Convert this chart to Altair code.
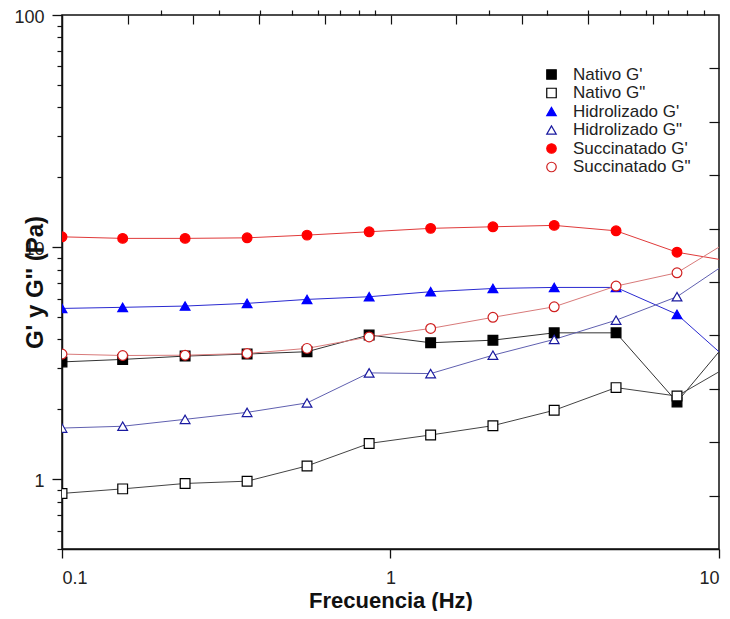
import altair as alt
import pandas as pd

# ---- data ----
freq = [0.1, 0.153, 0.237, 0.366, 0.557, 0.861, 1.325, 2.05, 3.15, 4.86, 7.45, 11.4]
series_names = ["Nativo G'", 'Nativo G"', "Hidrolizado G'", 'Hidrolizado G"',
                "Succinatado G'", 'Succinatado G"']
nativo_gp = [3.20, 3.28, 3.39, 3.46, 3.54, 4.18, 3.87, 3.97, 4.27, 4.27, 2.15, 4.42]
nativo_gpp = [0.868, 0.908, 0.958, 0.98, 1.14, 1.425, 1.55, 1.70, 1.98, 2.48, 2.28, 3.23]
hidro_gp = [5.44, 5.50, 5.57, 5.72, 5.95, 6.11, 6.42, 6.63, 6.70, 6.70, 5.13, 3.0]
hidro_gpp = [1.66, 1.69, 1.81, 1.94, 2.13, 2.87, 2.85, 3.42, 4.0, 4.84, 6.11, 9.17]
succ_gp = [11.07, 10.9, 10.9, 10.96, 11.26, 11.64, 12.04, 12.23, 12.4, 11.75, 9.5, 8.58]
succ_gpp = [3.46, 3.41, 3.42, 3.48, 3.66, 4.10, 4.46, 4.98, 5.53, 6.79, 7.75, 11.2]

x_major = [0.1, 1, 10]
x_minor = [0.2, 0.3, 0.4, 0.5, 0.6, 0.7, 0.8, 0.9, 2, 3, 4, 5, 6, 7, 8, 9]
y_major = [1, 10, 100]
y_minor = [0.5, 0.6, 0.7, 0.8, 0.9, 2, 3, 4, 5, 6, 7, 8, 9, 20, 30, 40, 50, 60, 70, 80, 90]
frame_ticks = [1, 2, 3, 4, 5, 6, 7, 8, 9]

marker_colors = ["#000000", "#000000", "#0000ff", "#1a1aa0", "#ff0000", "#d02020"]
fill_colors = ["#000000", "#ffffff", "#0000ff", "#ffffff", "#ff0000", "#ffffff"]
line_colors = ["#333333", "#444444", "#2a2ad0", "#6060b0", "#e03a3a", "#d87a7a"]
shapes = ["square", "square", "triangle-up", "triangle-up", "circle", "circle"]

all_series = [nativo_gp, nativo_gpp, hidro_gp, hidro_gpp, succ_gp, succ_gpp]
rows = []
for name, vals in zip(series_names, all_series):
    for f, v in zip(freq, vals):
        rows.append({"serie": name, "f": f, "v": v})
df = pd.DataFrame(rows)
ticks_df = pd.DataFrame({"t": frame_ticks})

FONT = "Liberation Sans"
W, H = 657, 534

xscale = alt.Scale(type="log", domain=[0.1, 10], nice=False)
yscale = alt.Scale(type="log", domain=[0.5, 100], nice=False)

x_axis = alt.Axis(values=x_major, format="~g", tickSize=9, tickWidth=1.3, tickColor="#111",
                  domainColor="#111", domainWidth=1.5, labelFont=FONT, labelFontSize=18,
                  labelColor="#222", labelPadding=11, grid=False, title="Frecuencia (Hz)",
                  titleFont=FONT, titleFontSize=22, titleFontWeight="bold", titleColor="#111",
                  titleY=51, titleBaseline="middle")
y_axis = alt.Axis(values=y_major, format="~g", tickSize=10, tickWidth=1.3, tickColor="#111",
                  domainColor="#111", domainWidth=1.5, labelFont=FONT, labelFontSize=18,
                  labelColor="#222", labelPadding=8, labelOffset=2, grid=False,
                  title="G' y G'' (Pa)",
                  titleFont=FONT, titleFontSize=24, titleFontWeight="bold", titleColor="#111",
                  titleX=-27, titleY=H / 2, titleAngle=-90, titleAlign="center",
                  titleBaseline="middle")

legend = alt.Legend(title=None, orient="none", legendX=481, legendY=51, labelFont=FONT,
                    labelFontSize=17, labelColor="#222", rowPadding=0.5, symbolStrokeWidth=1.2,
                    symbolSize=90, labelOffset=13, padding=0)

line_layers = []
for name, lc in zip(series_names, line_colors):
    line_layers.append(
        alt.Chart(df).transform_filter(alt.datum.serie == name)
        .mark_line(strokeWidth=1.0, color=lc, clip=True)
        .encode(
            x=alt.X("f:Q", scale=xscale, axis=x_axis),
            y=alt.Y("v:Q", scale=yscale, axis=y_axis),
            order="f:Q",
        )
    )

points = alt.Chart(df).mark_point(size=95, strokeWidth=1.2, opacity=1, fillOpacity=1, clip=True).encode(
    x=alt.X("f:Q", scale=xscale, axis=x_axis),
    y=alt.Y("v:Q", scale=yscale, axis=y_axis),
    color=alt.Color("serie:N", scale=alt.Scale(domain=series_names, range=marker_colors), legend=legend),
    fill=alt.Fill("serie:N", scale=alt.Scale(domain=series_names, range=fill_colors), legend=legend),
    shape=alt.Shape("serie:N", scale=alt.Scale(domain=series_names, range=shapes), legend=legend),
)
data_layer = alt.layer(*line_layers, points)

minor = alt.Chart(df).mark_point(opacity=0).encode(
    x=alt.X("f:Q", scale=xscale, axis=alt.Axis(values=x_minor, tickSize=5, tickWidth=1.2,
            tickColor="#111", labels=False, domain=False, grid=False, title=None)),
    y=alt.Y("v:Q", scale=yscale, axis=alt.Axis(values=y_minor, tickSize=5, tickWidth=1.2,
            tickColor="#111", labels=False, domain=False, grid=False, title=None, orient="left")),
)

frame = alt.Chart(ticks_df).mark_point(opacity=0).encode(
    x=alt.X("t:Q", scale=alt.Scale(domain=[0, 10], nice=False),
            axis=alt.Axis(values=frame_ticks, orient="bottom", offset=-H, tickSize=9, tickWidth=1.2,
                          tickColor="#111", labels=False, domain=False, grid=False, title=None)),
    y=alt.Y("t:Q", scale=alt.Scale(domain=[0, 10], nice=False),
            axis=alt.Axis(values=frame_ticks, orient="left", offset=-W, tickSize=10, tickWidth=1.2,
                          tickColor="#111", labels=False, domain=False, grid=False, title=None)),
)

chart = alt.layer(data_layer, minor, frame).resolve_scale(
    x="independent", y="independent"
).properties(
    width=W, height=H,
    autosize=alt.AutoSizeParams(type="none"),
    padding={"left": 54, "top": 7, "right": 3, "bottom": 62},
    background="white",
).configure_view(stroke="#111", strokeWidth=1.5)

chart.save("out.html", embed_options={"renderer": "svg", "actions": False})
